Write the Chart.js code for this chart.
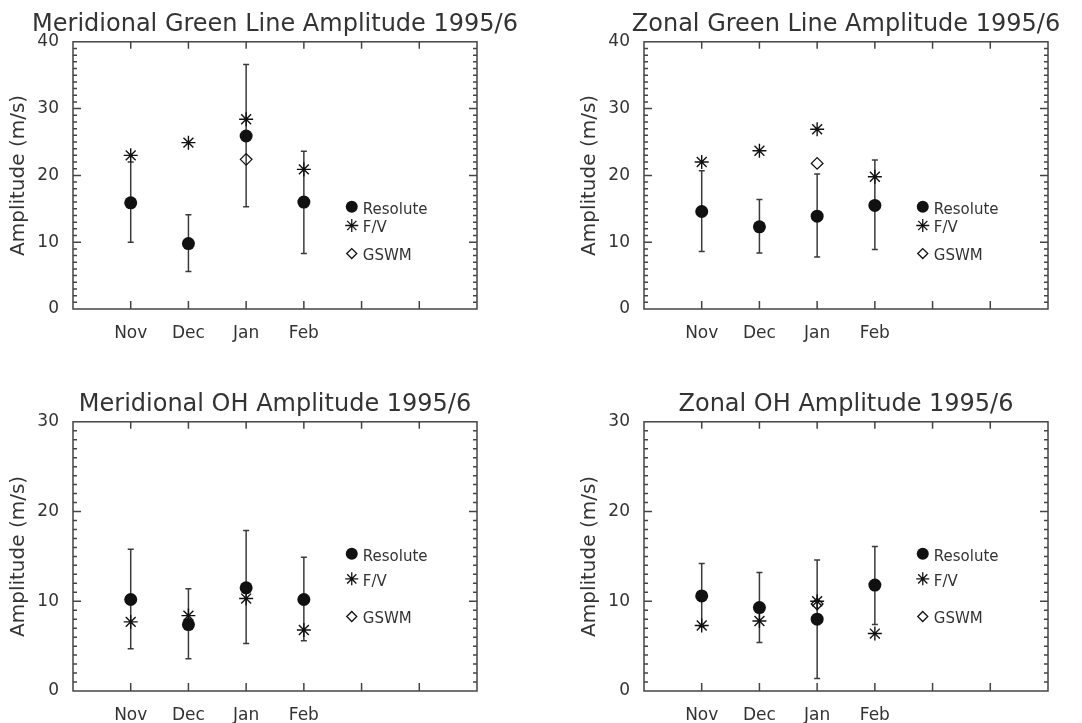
<!DOCTYPE html>
<html>
<head>
<meta charset="utf-8">
<script src="https://cdn.jsdelivr.net/npm/chart.js"></script>
<style>
  html, body { margin: 0; padding: 0; background: #fff; overflow: hidden; }
  #page { position: relative; width: 1082px; height: 723px; overflow: hidden; }
  canvas { position: absolute; }
</style>
</head>
<body>
<div id="page">
  <canvas id="mg" width="550" height="360" style="left:0;top:0"></canvas>
  <canvas id="zg" width="550" height="360" style="left:571px;top:0"></canvas>
  <canvas id="mo" width="550" height="362" style="left:0;top:380px"></canvas>
  <canvas id="zo" width="550" height="362" style="left:571px;top:380px"></canvas>
</div>
<script>
// months along the x axis (positions 1..4 of a 0..7 axis)
const months = ['Nov', 'Dec', 'Jan', 'Feb'];

// Meridional green line
const mgResolute = [15.9, 9.8, 25.9, 16.0];
const mgLow      = [10.0, 5.6, 15.3, 8.3];
const mgHigh     = [22.0, 14.1, 36.6, 23.6];
const mgFV       = [23.0, 24.9, 28.4, 20.9];
const mgGSWM     = [null, null, 22.4, null];

// Zonal green line
const zgResolute = [14.6, 12.3, 13.9, 15.5];
const zgLow      = [8.6, 8.4, 7.8, 8.9];
const zgHigh     = [20.7, 16.4, 20.2, 22.3];
const zgFV       = [22.0, 23.7, 26.9, 19.8];
const zgGSWM     = [null, null, 21.8, null];

// Meridional OH
const moResolute = [10.2, 7.4, 11.5, 10.2];
const moLow      = [4.7, 3.6, 5.3, 5.6];
const moHigh     = [15.8, 11.4, 17.9, 14.9];
const moFV       = [7.7, 8.4, 10.3, 6.8];
const moGSWM     = [null, null, null, null];

// Zonal OH
const zoResolute = [10.6, 9.3, 8.0, 11.8];
const zoLow      = [7.2, 5.4, 1.4, 7.4];
const zoHigh     = [14.2, 13.2, 14.6, 16.1];
const zoFV       = [7.3, 7.8, 10.0, 6.4];
const zoGSWM     = [null, null, 9.7, null];

const legendLabels = ['Resolute', 'F/V', 'GSWM'];

const FONT = 'DejaVu Sans';
const INK = '#333';
const MARK = '#111';

function drawMarker(ctx, style, x, y, r) {
  ctx.beginPath();
  if (style === 'circle') {
    ctx.arc(x, y, r, 0, Math.PI * 2);
    ctx.fillStyle = MARK;
    ctx.fill();
    return;
  }
  if (style === 'star') {
    const d = r * Math.SQRT1_2;
    ctx.moveTo(x - r, y); ctx.lineTo(x + r, y);
    ctx.moveTo(x, y - r); ctx.lineTo(x, y + r);
    ctx.moveTo(x - d, y - d); ctx.lineTo(x + d, y + d);
    ctx.moveTo(x - d, y + d); ctx.lineTo(x + d, y - d);
  } else {
    ctx.moveTo(x - r, y); ctx.lineTo(x, y - r);
    ctx.lineTo(x + r, y); ctx.lineTo(x, y + r);
    ctx.closePath();
  }
  ctx.strokeStyle = MARK;
  ctx.lineWidth = 1.3;
  ctx.stroke();
}

// IDL style box: full frame with inward ticks, minor ticks every unit on y
const idlFrame = {
  id: 'idlFrame',
  beforeDatasetsDraw(chart) {
    const { ctx, chartArea: a } = chart;
    const x = chart.scales.x, y = chart.scales.y;
    ctx.save();
    ctx.strokeStyle = '#444';
    ctx.lineWidth = 1.5;
    ctx.strokeRect(a.left, a.top, a.right - a.left, a.bottom - a.top);
    ctx.beginPath();
    for (let v = x.min + 1; v < x.max; v++) {
      const px = x.getPixelForValue(v);
      ctx.moveTo(px, a.bottom); ctx.lineTo(px, a.bottom - 8);
      ctx.moveTo(px, a.top); ctx.lineTo(px, a.top + 7);
    }
    for (let v = y.min + 1; v < y.max; v++) {
      const py = y.getPixelForValue(v);
      const len = v % 10 === 0 ? 8 : 4;
      ctx.moveTo(a.left, py); ctx.lineTo(a.left + len, py);
      ctx.moveTo(a.right, py); ctx.lineTo(a.right - len, py);
    }
    ctx.stroke();
    ctx.restore();
  }
};

// legend placed at data coordinates inside the box
const idlLegend = {
  id: 'idlLegend',
  afterDatasetsDraw(chart, args, opts) {
    const { ctx } = chart;
    const x = chart.scales.x, y = chart.scales.y;
    const px = x.getPixelForValue(opts.x);
    const styles = ['circle', 'star', 'diamond'];
    const sizes = [6, 6.5, 5];
    ctx.save();
    ctx.font = '15px ' + FONT;
    ctx.textBaseline = 'middle';
    opts.y.forEach((v, i) => {
      const py = y.getPixelForValue(v);
      drawMarker(ctx, styles[i], px, py, sizes[i]);
      ctx.fillStyle = INK;
      ctx.fillText(legendLabels[i], px + 11, py + 3);
    });
    ctx.restore();
  }
};

function points(vals) {
  return vals.map((v, i) => ({ x: i + 1, y: v })).filter(p => p.y !== null);
}

function makePanel(id, title, yMax, resolute, low, high, fv, gswm) {
  const datasets = [
    { label: 'F/V', data: points(fv), pointStyle: 'star', pointRadius: 7,
      pointBorderColor: MARK, pointBorderWidth: 1.4, borderColor: MARK, order: 0 },
    { label: 'GSWM', data: points(gswm), pointStyle: 'rectRot', pointRadius: 5.8,
      pointBackgroundColor: 'rgba(0,0,0,0)', pointBorderColor: MARK, pointBorderWidth: 1.3, order: 1 },
    { label: 'Resolute', data: points(resolute), pointStyle: 'circle', pointRadius: 6.5,
      pointBackgroundColor: MARK, pointBorderColor: MARK, pointBorderWidth: 0, order: 2 }
  ];
  months.forEach((m, i) => {
    datasets.push({
      type: 'line', label: m + ' range',
      data: [{ x: i + 1, y: low[i] }, { x: i + 1, y: high[i] }],
      borderColor: '#3a3a3a', borderWidth: 1.5, showLine: true,
      pointStyle: 'line', pointRadius: 3, pointBorderWidth: 1.5, pointBorderColor: '#3a3a3a',
      order: 3
    });
  });

  new Chart(document.getElementById(id), {
    type: 'scatter',
    data: { datasets },
    options: {
      responsive: false,
      animation: false,
      events: [],
      layout: { padding: 0 },
      plugins: {
        legend: { display: false },
        tooltip: { enabled: false },
        title: {
          display: true, text: title, color: INK,
          font: { family: FONT, size: 24, weight: 'normal' },
          padding: { top: 10, bottom: 3 }
        },
        idlLegend: { x: 4.83, y: [15.3, 12.5, 8.3] }
      },
      scales: {
        x: {
          type: 'linear', min: 0, max: 7,
          grid: { display: false }, border: { display: false },
          ticks: {
            stepSize: 1, autoSkip: false, maxRotation: 0, color: INK, padding: 6,
            font: { family: FONT, size: 17 },
            callback: v => months[v - 1] || ''
          },
          afterFit: s => { s.height = 51; }
        },
        y: {
          min: 0, max: yMax,
          grid: { display: false }, border: { display: false },
          ticks: { stepSize: 10, color: INK, padding: 6, font: { family: FONT, size: 17 } },
          title: {
            display: true, text: 'Amplitude (m/s)', color: INK,
            font: { family: FONT, size: 20 }, padding: { top: 7, bottom: 0 }
          },
          afterFit: s => { s.width = 73; }
        },
        yr: {
          position: 'right', min: 0, max: yMax,
          grid: { display: false }, border: { display: false },
          ticks: { display: false },
          afterFit: s => { s.width = 73; }
        }
      }
    },
    plugins: [idlFrame, idlLegend]
  });
}

makePanel('mg', 'Meridional Green Line Amplitude 1995/6', 40, mgResolute, mgLow, mgHigh, mgFV, mgGSWM);
makePanel('zg', 'Zonal Green Line Amplitude 1995/6', 40, zgResolute, zgLow, zgHigh, zgFV, zgGSWM);
makePanel('mo', 'Meridional OH Amplitude 1995/6', 30, moResolute, moLow, moHigh, moFV, moGSWM);
makePanel('zo', 'Zonal OH Amplitude 1995/6', 30, zoResolute, zoLow, zoHigh, zoFV, zoGSWM);
</script>
</body>
</html>
